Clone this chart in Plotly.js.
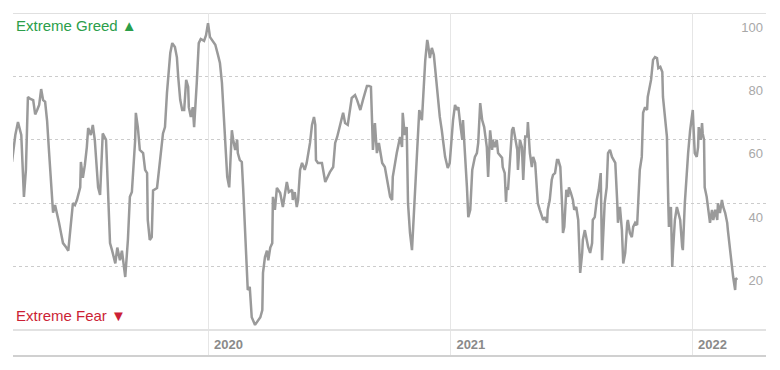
<!DOCTYPE html>
<html>
<head>
<meta charset="utf-8">
<script src="https://cdn.plot.ly/plotly-3.0.1.min.js"></script>
<style>html,body{margin:0;padding:0;background:#fff;}#chart{width:780px;height:370px;}</style>
</head>
<body>
<div id="chart"></div>
<script>
const startDate = '2020-01-01';
const dayOffsets = [
-296,-291,-287,-282,-278,-275,-272,-269,-264,-261,-258,-255,-252,-249,-246,-243,-240,-236,-234,-231,
-228,-225,-222,-219,-214,-211,-208,-204,-201,-198,-193,-192,-189,-186,-183,-181,-177,-174,-171,-166,
-163,-160,-159,-154,-151,-148,-145,-140,-137,-133,-130,-125,-121,-118,-115,-113,-110,-109,-106,-103,
-98,-95,-92,-91,-88,-85,-83,-77,-72,-69,-68,-65,-62,-57,-54,-50,-47,-45,-42,-39,
-36,-33,-30,-29,-26,-23,-21,-17,-14,-11,-6,-3,0,3,8,11,15,18,21,23,
26,29,32,36,38,41,44,45,48,51,53,56,59,60,63,66,71,76,79,82,
83,86,89,91,94,97,98,101,104,109,113,119,122,127,128,131,134,136,139,142,
146,149,154,157,160,162,163,166,172,177,180,184,189,192,195,199,204,207,211,217,
222,225,230,234,240,243,246,248,249,252,255,258,263,267,270,275,278,279,285,290,
293,294,297,300,302,305,308,313,316,319,323,328,331,332,335,338,341,344,347,350,
353,358,362,365,370,373,376,378,381,384,385,388,391,393,396,399,403,406,408,411,
414,417,421,423,426,429,430,433,436,438,444,445,448,450,451,453,456,459,461,464,
467,468,471,474,476,479,482,483,486,489,491,494,497,498,501,504,506,509,512,513,
516,519,521,524,527,529,532,535,536,538,541,544,545,548,551,553,556,559,560,562,
565,566,569,572,574,577,580,581,584,587,590,593,595,599,602,604,607,610,612,615,
618,619,622,625,627,630,633,634,637,640,642,645,648,649,652,655,657,660,663,664,
669,672,675,678,680,683,686,687,690,693,695,696,699,701,702,705,708,710,713,716,
717,720,723,725,728,731,732,734,735,738,740,741,744,746,747,749,750,753,755,758,
761,763,766,769,770,773,776,778,781,784,785,788,791,793,796,797,799
];
const indexValues = [
53,61.5,65.6,61.5,42,50.5,73.5,73,72.5,68,69.4,71,76,72.5,72,66,56,42,37,39.4,
37,33.8,30.6,27.4,26,25,31.5,40,39.4,41,45,53,48,52,57.7,63.7,61.5,64.7,60,45,
42.6,60,62,60,41,27.4,25.2,21,26,22,25,16.7,28.4,42,43.5,50.5,60,68.5,64,56.8,
55.8,50.5,49.5,34.7,28.4,29.3,44,44.8,53.6,59.3,62,64,74.8,87.4,90.5,89.3,86,79.8,72.6,69.4,
69.4,78.9,76.7,70.3,67.2,70.3,64,78,90.5,91.8,91.2,93,96.8,92.4,90.9,90,86.8,84.2,78,70.3,
63,48.3,45,63,60,56.8,60,55.8,53.6,53,45,32.5,18,12.6,13.6,4,1.6,3,4,6.3,
18,23,25,22,26,27.4,42,37.9,44.8,43.2,38.8,46.7,43.5,44.2,41,43.5,38.8,41,50.5,52.7,
50.5,52.7,59,64.7,67.2,64.7,53.6,52.7,52.7,46.7,48.3,49.8,51.4,59,60.9,64,68.5,65.3,64.7,73.2,
74.1,72.6,69.4,72.6,77,77,76.7,64,56.8,65.3,55.8,59,52.7,51.4,47.3,42,41,48.3,55.8,60.9,
57.7,68.5,61.5,64,40,30.6,25.2,45,60,69.4,66.2,85,91.5,90.5,85.8,89,86.8,79.8,73.5,67.2,
63,54.6,51.1,52.7,66.2,71,69.4,70.3,64.7,60,66.2,56.8,45,35.6,37.9,50.5,54.6,55.8,59,71.6,
66.2,64,57.7,48.3,63,56.8,60,57.7,60,55.8,54.3,51.4,49.5,40.4,45,44.2,55.8,63,64,60,
56.8,50.5,60,57.7,47.3,61,61,65.6,55.8,51.4,54.6,52.7,40.4,40,37.9,35.6,34.7,35.6,33.8,37.9,
41,47.3,48.9,49.5,53.6,53.6,51.4,37.9,30.6,32.5,44.2,42,45,43.2,41,37.9,38.8,34.7,28.4,18,
24.3,28.4,31.5,28.4,26.2,24.3,27.4,34.7,35.6,41,44.2,49.5,22,40,45,55.8,56.8,54.6,53.6,52.7,
40,33.8,38.8,31.5,21,24.3,33.8,34.7,30.6,29.3,32.5,33.8,33.1,36.9,50.5,54.6,68.5,70.3,69.4,73.5,
78.9,85.2,86.1,85.8,82.6,83,81.4,73.5,67.2,60.9,40,32.5,38.8,19.9,24.3,34.7,38.8,36.9,34.7,26.2,
25.2,40,50.5,55.8,63,68.5,69.4,60,55.8,54.6,57.7,64,60,65.3,62,60,45,42,38.8,33.8,
37.9,34.7,37.9,34.7,40,36.9,41,38.8,36.9,33.8,31.5,25.2,19.9,16.7,12.6,16.4,15.8
];
const yTickValues = [20, 40, 60, 80, 100];
const yTickLabels = ['20', '40', '60', '80', '100'];
const greedLabel = 'Extreme Greed \u25B2';
const fearLabel = 'Extreme Fear \u25BC';

const base = Date.parse(startDate + 'T00:00:00Z');
const dates = dayOffsets.map(d => new Date(base + d * 86400000).toISOString().slice(0, 10));

const FONT = 'Liberation Sans, Arial, Helvetica, sans-serif';

const trace = {
  type: 'scatter', mode: 'lines', x: dates, y: indexValues,
  line: {color: '#9a9a9a', width: 2.5},
  hoverinfo: 'skip'
};

const layout = {
  width: 780, height: 370,
  margin: {l: 13, r: 14, t: 13, b: 15, pad: 0},
  paper_bgcolor: '#ffffff', plot_bgcolor: '#ffffff',
  showlegend: false,
  font: {family: FONT},
  xaxis: {
    type: 'date',
    range: ['2019-03-12 12:00', '2022-04-22 14:00'],
    dtick: 'M12', tick0: '2020-01-01', tickformat: '%Y',
    showgrid: true, gridcolor: '#e6e6e6', gridwidth: 1,
    ticklabelposition: 'inside right',
    ticklabelshift: 5,
    ticks: '', ticklabelstandoff: 0,
    tickfont: {family: FONT, size: 13, color: '#8a8a8a', weight: 'bold'},
    showline: true, linecolor: '#d0d0d0', linewidth: 2,
    zeroline: false, fixedrange: true
  },
  yaxis: {
    range: [-7.9, 100],
    side: 'right',
    tickvals: yTickValues, ticktext: yTickLabels,
    ticklabelposition: 'inside bottom',
    ticklabelshift: 5,
    ticks: '',
    tickfont: {family: FONT, size: 13, color: '#a8a8a8'},
    showgrid: true, gridcolor: '#cccccc', griddash: 'dot', gridwidth: 1,
    zeroline: true, zerolinecolor: '#e2e2e2', zerolinewidth: 1.5,
    showline: false, fixedrange: true
  },
  shapes: [
    {type: 'line', xref: 'paper', yref: 'y', x0: 0, x1: 1, y0: 100, y1: 100,
     line: {color: '#d6d6d6', width: 1.5}, layer: 'below'}
  ],
  annotations: [
    {text: greedLabel, xref: 'paper', yref: 'paper', x: 0, y: 0.964, xanchor: 'left', yanchor: 'middle',
     xshift: 1, showarrow: false, font: {family: FONT, size: 15, color: '#2b9e4a'}},
    {text: fearLabel, xref: 'paper', yref: 'paper', x: 0, y: 0.115, xanchor: 'left', yanchor: 'middle',
     xshift: 1, showarrow: false, font: {family: FONT, size: 15, color: '#cc1f36'}}
  ]
};

Plotly.newPlot('chart', [trace], layout, {displayModeBar: false, staticPlot: true});
</script>
</body>
</html>
